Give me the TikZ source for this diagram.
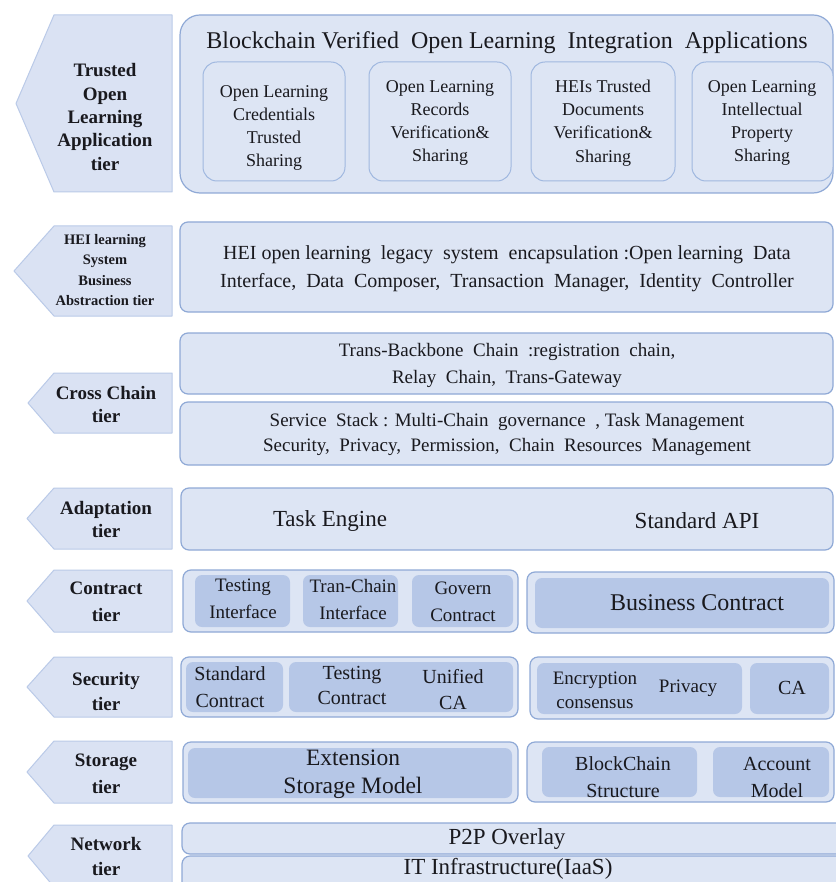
\documentclass[tikz,border=0pt]{standalone}
\usepackage{fontspec}
\setmainfont{Liberation Serif}

\definecolor{tierfill}{RGB}{218,226,243}
\definecolor{tierline}{RGB}{186,202,232}
\definecolor{boxfill}{RGB}{221,229,244}
\definecolor{boxline}{RGB}{143,169,214}
\definecolor{cardline}{RGB}{160,184,224}
\definecolor{innerfill}{RGB}{182,199,231}
\definecolor{inktext}{RGB}{25,25,30}

% left-pointing tier tag: top y, bottom y, tip x
\newcommand{\tiershape}[3]{%
  \draw[tierarrow] (172,#1) -- (54,#1) -- (#3,{(#1+#2)/2}) -- (54,#2) -- (172,#2) -- cycle;}

% rectangular panel as a named node: name, x1, y1, x2, y2, style
\newcommand{\panel}[6]{%
  \node[#6, anchor=north west, outer sep=0pt, inner sep=0pt,
        minimum width={(#4)-(#2)}, minimum height={(#5)-(#3)}] (#1) at (#2,#3) {};}

\tikzset{
  tierarrow/.style={fill=tierfill, draw=tierline, line width=1pt, line join=round},
  tierlabel/.style={inner sep=0pt, align=center, text=inktext},
  layer/.style={rectangle, fill=boxfill, draw=boxline, line width=1.2pt, rounded corners=8pt},
  biglayer/.style={rectangle, fill=boxfill, draw=boxline, line width=1.2pt, rounded corners=20pt},
  appcard/.style={rectangle, fill=boxfill, draw=cardline, line width=1pt, rounded corners=14pt},
  darkcard/.style={rectangle, fill=innerfill, draw=none, rounded corners=7pt},
  txt/.style={inner sep=0pt, align=center, text=inktext},
}

\begin{document}
\begin{tikzpicture}[x=1pt, y=-1pt]
\fill[white] (0,0) rectangle (835,882);
\useasboundingbox (0,0) rectangle (835,882);

% ---------------- tier tags ----------------
\tiershape{15}{192}{16}
\node[tierlabel, font=\bfseries\fontsize{19}{23.3}\selectfont] (tApp) at (105,117)
  {Trusted\\Open\\Learning\\Application\\tier};

\tiershape{226}{316}{14}
\node[tierlabel, font=\bfseries\fontsize{14.5}{20.5}\selectfont] (tHei) at (105,270)
  {HEI learning\\System\\Business\\Abstraction tier};

\tiershape{373}{433}{28}
\node[tierlabel, font=\bfseries\fontsize{19}{23}\selectfont] (tCross) at (106,404)
  {Cross Chain\\tier};

\tiershape{488}{549}{27}
\node[tierlabel, font=\bfseries\fontsize{19}{23}\selectfont] (tAdapt) at (106,519)
  {Adaptation\\tier};

\tiershape{570}{632}{27}
\node[tierlabel, font=\bfseries\fontsize{19}{27}\selectfont] (tContract) at (106,602)
  {Contract\\tier};

\tiershape{657}{717}{27}
\node[tierlabel, font=\bfseries\fontsize{19}{25}\selectfont] (tSecurity) at (106,691)
  {Security\\tier};

\tiershape{741}{803}{27}
\node[tierlabel, font=\bfseries\fontsize{19}{27}\selectfont] (tStorage) at (106,774)
  {Storage\\tier};

\tiershape{825}{887}{28}
\node[tierlabel, font=\bfseries\fontsize{19}{25}\selectfont] (tNetwork) at (106,856)
  {Network\\tier};

% ---------------- application tier ----------------
\panel{app}{180}{15}{833}{193}{biglayer}
\node[txt, font=\fontsize{24}{28}\selectfont] (appTitle) at (507,43)
  {Blockchain Verified\ \ Open Learning\ \ Integration\ \ Applications};

\panel{cardA}{203}{62}{345}{181}{appcard}
\panel{cardB}{369}{62}{511}{181}{appcard}
\panel{cardC}{531}{62}{675}{181}{appcard}
\panel{cardD}{692}{62}{833}{181}{appcard}
\node[txt, font=\fontsize{18}{23.3}\selectfont] (cardAtxt) at (274,128)
  {Open Learning\\Credentials\\Trusted\\Sharing};
\node[txt, font=\fontsize{18}{23.3}\selectfont] (cardBtxt) at (440,123)
  {Open Learning\\Records\\Verification\&\\Sharing};
\node[txt, font=\fontsize{18}{23.3}\selectfont] (cardCtxt) at (603,123)
  {HEIs Trusted\\Documents\\Verification\&\\Sharing};
\node[txt, font=\fontsize{18}{23.3}\selectfont] (cardDtxt) at (762,123)
  {Open Learning\\Intellectual\\Property\\Sharing};

% ---------------- HEI abstraction tier ----------------
\panel{hei}{180}{222}{833}{312}{layer}
\node[txt, font=\fontsize{20}{28}\selectfont] (heiTxt) at (507,269)
  {HEI open learning\ \ legacy\ \ system\ \ encapsulation :Open learning\ \ Data\\
   Interface,\ \ Data\ \ Composer,\ \ Transaction\ \ Manager,\ \ Identity\ \ Controller};

% ---------------- cross chain tier ----------------
\panel{trans}{180}{333}{833}{394}{layer}
\node[txt, font=\fontsize{19}{27}\selectfont] (transTxt) at (507,365)
  {Trans-Backbone\ \ Chain\ \ :registration\ \ chain,\\Relay\ \ Chain,\ \ Trans-Gateway};
\panel{service}{180}{402}{833}{465}{layer}
\node[txt, font=\fontsize{19}{25}\selectfont] (serviceTxt) at (507,434)
  {Service\ \ Stack : Multi-Chain\ \ governance\ \ , Task Management\\
   Security,\ \ Privacy,\ \ Permission,\ \ Chain\ \ Resources\ \ Management};

% ---------------- adaptation tier ----------------
\panel{adapt}{181}{488}{833}{550}{layer}
\node[txt, font=\fontsize{23}{27}\selectfont] (taskEngine) at (330,521) {Task Engine};
\node[txt, font=\fontsize{23}{27}\selectfont] (stdApi) at (697,521) {Standard API};

% ---------------- contract tier ----------------
\panel{contractL}{183}{570}{518}{632}{layer}
\panel{ctA}{195}{575}{290}{627}{darkcard}
\panel{ctB}{303}{575}{398}{627}{darkcard}
\panel{ctC}{412}{575}{513}{627}{darkcard}
\node[txt, font=\fontsize{19}{27}\selectfont] (ctAtxt) at (243,599) {Testing\\Interface};
\node[txt, font=\fontsize{19}{27}\selectfont] (ctBtxt) at (353,599) {Tran-Chain\\Interface};
\node[txt, font=\fontsize{19}{27}\selectfont] (ctCtxt) at (463,602) {Govern\\Contract};

\panel{contractR}{527}{572}{834}{633}{layer}
\panel{ctD}{535}{578}{829}{628}{darkcard}
\node[txt, font=\fontsize{24}{28}\selectfont] (ctDtxt) at (697,603) {Business Contract};

% ---------------- security tier ----------------
\panel{securityL}{181}{657}{518}{717}{layer}
\panel{scA}{186}{662}{283}{712}{darkcard}
\panel{scB}{289}{662}{513}{712}{darkcard}
\node[txt, font=\fontsize{20}{27}\selectfont] (scAtxt) at (230,687) {Standard\\Contract};
\node[txt, font=\fontsize{20}{25}\selectfont] (scBtxt) at (352,685) {Testing\\Contract};
\node[txt, font=\fontsize{20}{26}\selectfont] (scCtxt) at (453,690) {Unified\\CA};

\panel{securityR}{530}{657}{834}{719}{layer}
\panel{scD}{537}{663}{742}{714}{darkcard}
\panel{scE}{750}{663}{829}{714}{darkcard}
\node[txt, font=\fontsize{19}{24}\selectfont] (scDtxt) at (595,690) {Encryption\\consensus};
\node[txt, font=\fontsize{19}{24}\selectfont] (scPtxt) at (688,688) {Privacy};
\node[txt, font=\fontsize{20}{24}\selectfont] (scEtxt) at (792,688) {CA};

% ---------------- storage tier ----------------
\panel{storageL}{183}{742}{518}{803}{layer}
\panel{stA}{188}{748}{512}{798}{darkcard}
\node[txt, font=\fontsize{23.5}{28}\selectfont] (stAtxt) at (353,774) {Extension\\Storage Model};

\panel{storageR}{527}{742}{834}{802}{layer}
\panel{stB}{542}{747}{697}{797}{darkcard}
\panel{stC}{713}{747}{829}{797}{darkcard}
\node[txt, font=\fontsize{20}{27}\selectfont] (stBtxt) at (623,777) {BlockChain\\Structure};
\node[txt, font=\fontsize{20}{27}\selectfont] (stCtxt) at (777,777) {Account\\Model};

% ---------------- network tier ----------------
\panel{p2p}{182}{823}{845}{854}{layer}
\panel{iaas}{182}{856}{845}{900}{layer}
\node[txt, font=\fontsize{23}{27}\selectfont] (p2pTxt) at (507,839) {P2P Overlay};
\node[txt, font=\fontsize{23}{27}\selectfont] (iaasTxt) at (508,869) {IT Infrastructure(IaaS)};

\end{tikzpicture}
\end{document}
